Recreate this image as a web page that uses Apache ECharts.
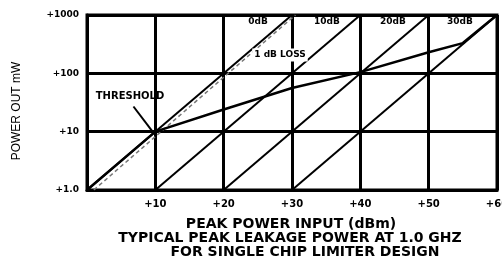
<!DOCTYPE html>
<html lang="en">
<head>
    <meta charset="UTF-8"/>
    <title>peak leakage</title>
    <script src="https://cdn.jsdelivr.net/npm/echarts@6/dist/echarts.min.js"></script>
    <style>
        body { margin: 0; background: #fff; }
    </style>
</head>
<body>
<div id="main" style="width: 502px;height:260px;"></div>
<script type="text/javascript">
    // data
    var xTickLabels = ['', '+10', '+20', '+30', '+40', '+50', '+60'];
    var yTickValues = [1, 10, 100, 1000];
    var yTickLabels = ['+1.0', '+10', '+100', '+1000'];

    // constant-loss lines, [input dBm, output mW]
    var loss0dB = [[0, 1], [30, 1000]];
    var loss10dB = [[10, 1], [40, 1000]];
    var loss20dB = [[20, 1], [50, 1000]];
    var loss30dB = [[30, 1], [60, 1000]];
    var loss1dB = [[1, 1], [30.5, 1000]];   // dashed grey

    // typical limiter leakage curve
    var leakage = [[0, 1], [10, 10], [20, 24], [30, 56], [40, 105], [50, 230], [55, 330], [60, 1000]];

    // arrow from THRESHOLD label to knee
    var thresholdArrow = [[6.8, 27], [9.6, 10]];

    var lossLabels = ['0dB', '10dB', '20dB', '30dB'];

    var myChart = echarts.init(document.getElementById('main'));

    function diag(name, data) {
        return {
            name: name, type: 'line', data: data, symbol: 'none', silent: true,
            lineStyle: {color: '#000', width: 2}
        };
    }

    var bold = 'DejaVu Sans';
    var graphics = [];
    // loss labels along the top row
    var lossLabelX = [258, 327, 393, 460];
    for (var i = 0; i < lossLabels.length; i++) {
        graphics.push({
            type: 'text', x: lossLabelX[i], y: 22,
            style: {text: lossLabels[i], align: 'center', verticalAlign: 'middle',
                fontSize: 9, fontWeight: 'bold', fontFamily: bold, fill: '#000'}
        });
    }
    graphics.push({
        type: 'text', x: 280, y: 55, z: 50,
        style: {text: '1 dB LOSS', align: 'center', verticalAlign: 'middle',
            fontSize: 9, fontWeight: 'bold', fontFamily: bold, fill: '#000',
            backgroundColor: '#fff', padding: [2, 2]}
    });
    graphics.push({
        type: 'text', x: 130, y: 96,
        style: {text: 'THRESHOLD', align: 'center', verticalAlign: 'middle',
            fontSize: 10, fontWeight: 'bold', fontFamily: bold, fill: '#000'}
    });
    graphics.push({
        type: 'text', x: 17, y: 111, rotation: Math.PI / 2,
        style: {text: 'POWER OUT mW', align: 'center', verticalAlign: 'middle',
            fontSize: 12, fontFamily: 'Liberation Sans', fill: '#000'}
    });
    var caption = [
        ['PEAK POWER INPUT (dBm)', 291, 224],
        ['TYPICAL PEAK LEAKAGE POWER AT 1.0 GHZ', 290, 238],
        ['FOR SINGLE CHIP LIMITER DESIGN', 305, 252]
    ];
    caption.forEach(function (c) {
        graphics.push({
            type: 'text', x: c[1], y: c[2],
            style: {text: c[0], align: 'center', verticalAlign: 'middle',
                fontSize: 14, fontWeight: 'bold', fontFamily: bold, fill: '#000'}
        });
    });

    var option = {
        animation: false,
        backgroundColor: '#fff',
        grid: {
            left: 87, right: 5, top: 15, bottom: 70,
            containLabel: false, outerBoundsMode: 'none',
            show: true, borderColor: '#000', borderWidth: 3
        },
        xAxis: {
            type: 'value', min: 0, max: 60, interval: 10,
            axisLine: {show: true, lineStyle: {color: '#000', width: 3}},
            axisTick: {show: false},
            splitLine: {lineStyle: {color: '#000', width: 3}},
            axisLabel: {
                margin: 9, color: '#000', fontSize: 10, fontWeight: 'bold', fontFamily: bold,
                showMaxLabel: true,
                formatter: function (v) { return xTickLabels[Math.round(v / 10)]; }
            }
        },
        yAxis: {
            type: 'log', logBase: 10, min: 1, max: 1000,
            axisLine: {show: true, lineStyle: {color: '#000', width: 3}},
            axisTick: {show: false},
            splitLine: {lineStyle: {color: '#000', width: 3}},
            minorSplitLine: {show: false},
            axisLabel: {
                margin: 8, color: '#000', fontSize: 9, fontWeight: 'bold', fontFamily: bold,
                formatter: function (v) {
                    var k = yTickValues.indexOf(Math.round(v));
                    return k >= 0 ? yTickLabels[k] : '';
                }
            }
        },
        series: [
            diag('0dB', loss0dB),
            diag('10dB', loss10dB),
            diag('20dB', loss20dB),
            diag('30dB', loss30dB),
            {
                name: '1 dB loss', type: 'line', data: loss1dB, symbol: 'none', silent: true,
                lineStyle: {color: '#777', width: 1.5, type: [4, 3]}
            },
            {
                name: 'leakage', type: 'line', data: leakage, symbol: 'none', silent: true,
                lineStyle: {color: '#000', width: 2.5}
            },
            {
                name: 'threshold', type: 'line', data: thresholdArrow, symbol: 'none', silent: true,
                lineStyle: {color: '#000', width: 2}
            }
        ],
        graphic: graphics
    };

    myChart.setOption(option);
</script>
</body>
</html>
